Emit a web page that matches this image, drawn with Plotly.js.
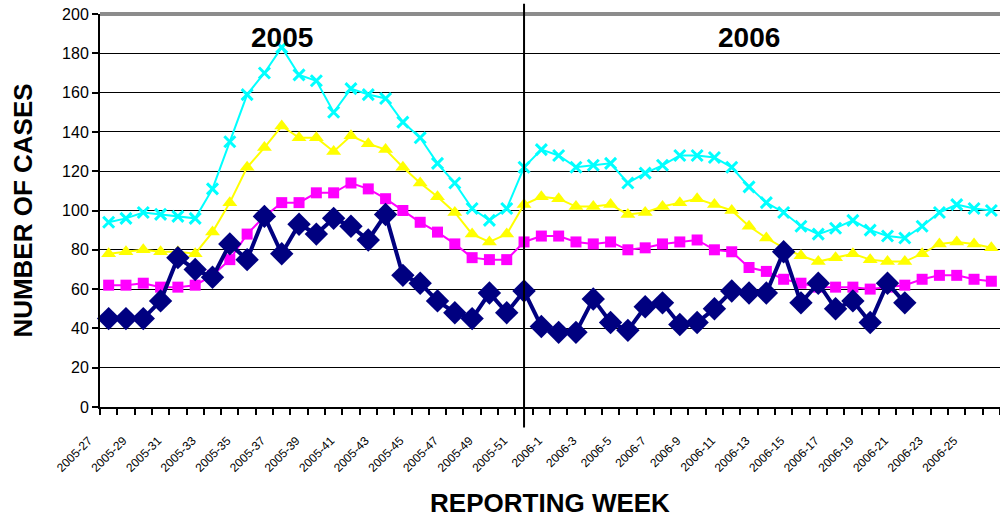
<!DOCTYPE html>
<html>
<head>
<meta charset="utf-8">
<script src="https://cdn.plot.ly/plotly-3.0.1.min.js"></script>
<style>html,body{margin:0;padding:0;background:#fff;}#chart{width:1000px;height:518px;}</style>
</head>
<body>
<div id="chart"></div>
<script>
// Categories: reporting weeks
const weeks2005 = ["2005-27","2005-28","2005-29","2005-30","2005-31","2005-32","2005-33","2005-34","2005-35","2005-36","2005-37","2005-38","2005-39","2005-40","2005-41","2005-42","2005-43","2005-44","2005-45","2005-46","2005-47","2005-48","2005-49","2005-50","2005-51","2005-52"];
const weeks2006 = ["2006-1","2006-2","2006-3","2006-4","2006-5","2006-6","2006-7","2006-8","2006-9","2006-10","2006-11","2006-12","2006-13","2006-14","2006-15","2006-16","2006-17","2006-18","2006-19","2006-20","2006-21","2006-22","2006-23","2006-24","2006-25","2006-26"];
const categories = weeks2005.concat(weeks2006);

// Series values (number of cases)
const casesNavy = [45,45,45,54,76,70,66,83,75,97,78,93,88,96,92,85,98,67,63,54,48,45,58,48,59,41,38,38,55,43,39,51,53,42,43,50,59,58,58,79,53,63,50,54,43,63,53];
const casesMagenta = [62,62,63,61,61,62,67,75,88,97,104,104,109,109,114,111,106,100,94,89,83,76,75,75,84,87,87,84,83,84,80,81,83,84,85,80,79,71,69,65,63,61,61,61,60,61,62,65,67,67,65,64];
const casesYellow = [78,79,80,79,79,78,89,104,122,132,143,137,137,130,138,134,131,122,114,107,99,88,84,88,103,107,106,102,102,103,98,99,102,104,106,103,100,92,86,81,77,74,76,78,75,74,74,78,83,84,83,81];
const casesCyan = [94,96,99,98,97,96,111,135,159,170,183,169,166,150,162,159,157,145,137,124,114,101,95,101,122,131,128,122,123,124,114,119,123,128,128,127,122,112,104,99,92,88,91,95,90,87,86,92,99,103,101,100];

// Axis tick labels (every second week shown)
const tickLabels = categories.map((c, i) => (i % 2 === 0 ? c : ""));
const yTicks = [0,20,40,60,80,100,120,140,160,180,200];
const yearLabels = ["2005", "2006"];
const yearLabelPos = [10, 37];
const yearSplitIndex = 24;

const FONT = "Arial, 'Liberation Sans', sans-serif";

const traces = [
  {
    x: categories.slice(0, casesCyan.length), y: casesCyan, type: "scatter", mode: "lines+markers",
    line: {color: "#00FFFF", width: 2},
    marker: {symbol: "x-thin-open", size: 11, line: {color: "#00FFFF", width: 3}, color: "#00FFFF"},
    cliponaxis: false
  },
  {
    x: categories.slice(0, casesYellow.length), y: casesYellow, type: "scatter", mode: "lines+markers",
    line: {color: "#FFFF00", width: 2},
    marker: {symbol: "triangle-up", size: 13, color: "#FFFF00"},
    cliponaxis: false
  },
  {
    x: categories.slice(0, casesMagenta.length), y: casesMagenta, type: "scatter", mode: "lines+markers",
    line: {color: "#FF00FF", width: 2},
    marker: {symbol: "square", size: 11, color: "#FF00FF"},
    cliponaxis: false
  },
  {
    x: categories.slice(0, casesNavy.length), y: casesNavy, type: "scatter", mode: "lines+markers",
    line: {color: "#000080", width: 4},
    marker: {symbol: "diamond", size: 18, color: "#000080"},
    cliponaxis: false
  }
];

const layout = {
  width: 1000, height: 518,
  margin: {l: 100, r: 0, t: 14, b: 111, pad: 0},
  paper_bgcolor: "#fff", plot_bgcolor: "#fff",
  showlegend: false,
  font: {family: FONT, color: "#000"},
  xaxis: {
    type: "category",
    categoryorder: "array", categoryarray: categories,
    range: [-0.5, categories.length - 0.5],
    tickmode: "array", tickvals: categories, ticktext: tickLabels,
    tickson: "boundaries",
    ticks: "outside", ticklen: 6, tickwidth: 2, tickcolor: "#000",
    tickangle: -45,
    ticklabelshift: -20,
    ticklabelstandoff: 20,
    tickfont: {family: FONT, size: 12, color: "#000"},
    showgrid: false, zeroline: false,
    showline: true, linecolor: "#000", linewidth: 2,
    title: {text: "<b>REPORTING WEEK</b>", font: {family: FONT, size: 26, color: "#000"}, standoff: 22}
  },
  yaxis: {
    range: [0, 200],
    tickmode: "array", tickvals: yTicks,
    ticks: "outside", ticklen: 6, tickwidth: 2, tickcolor: "#000",
    tickfont: {family: FONT, size: 16, color: "#000"},
    showgrid: true, gridcolor: "#000", gridwidth: 1,
    zeroline: false,
    showline: true, linecolor: "#000", linewidth: 2,
    title: {text: "<b>NUMBER OF CASES</b>", font: {family: FONT, size: 26, color: "#000"}, standoff: 22}
  },
  shapes: [
    {type: "line", xref: "paper", yref: "paper", x0: 0, x1: 1, y0: 1, y1: 1, line: {color: "#8c8c8c", width: 4}},
    {type: "line", xref: "x", yref: "paper", x0: yearSplitIndex, x1: yearSplitIndex, y0: -0.052, y1: 1.026, line: {color: "#000", width: 2}}
  ],
  annotations: yearLabels.map((t, i) => ({
    x: yearLabelPos[i], y: 188, xref: "x", yref: "y", text: "<b>" + t + "</b>", showarrow: false,
    font: {family: FONT, size: 28, color: "#000"}
  }))
};

Plotly.newPlot("chart", traces, layout, {displayModeBar: false, staticPlot: true});
</script>
</body>
</html>
